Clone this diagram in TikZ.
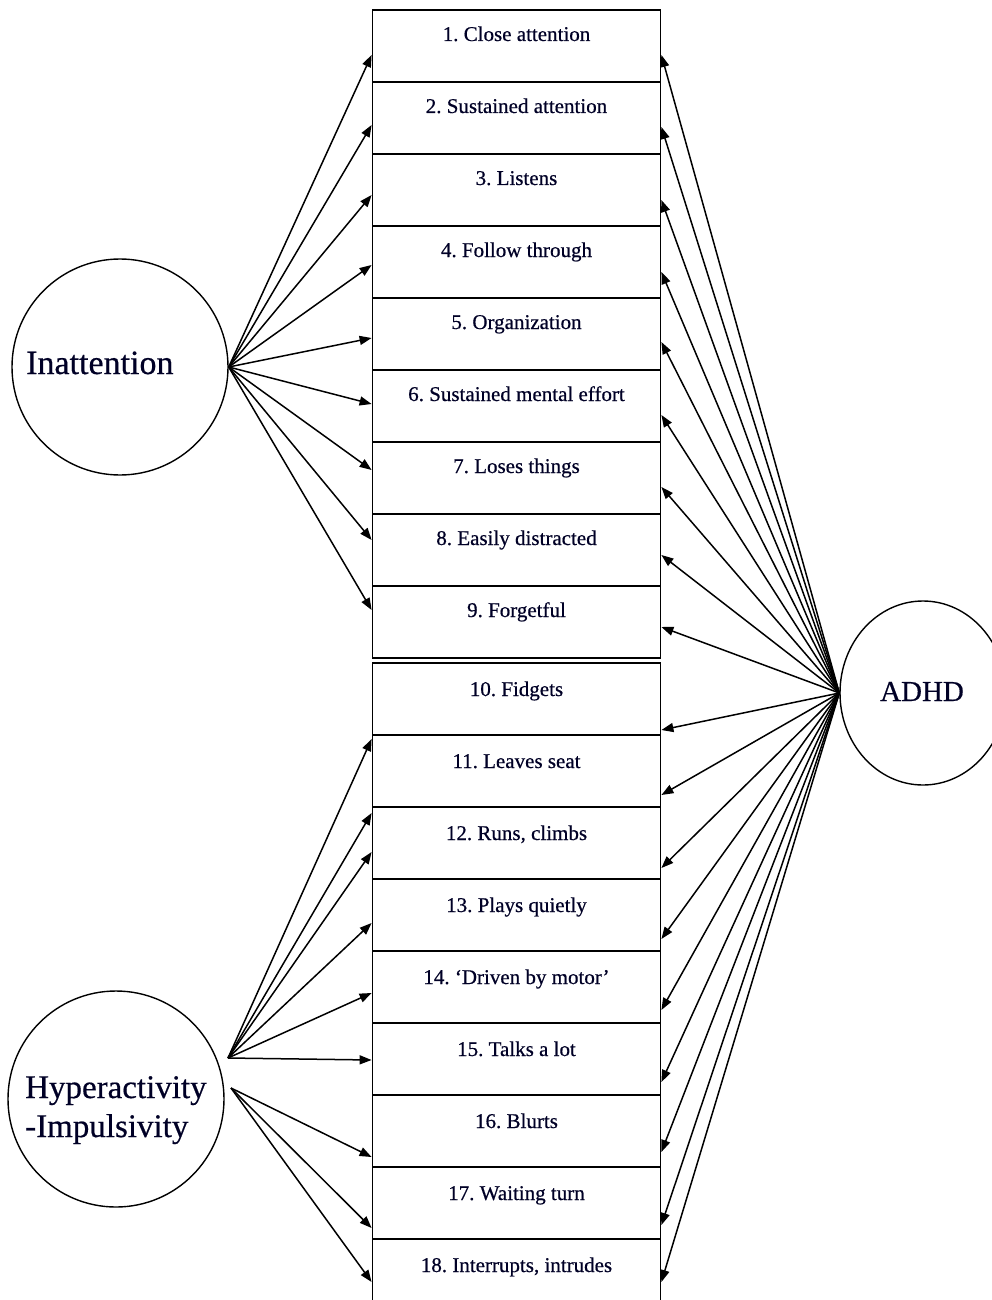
\documentclass[tikz,border=0pt]{standalone}
\usepackage{fontspec}
\setmainfont{Liberation Serif}[FakeBold=0.5]
\usetikzlibrary{calc,arrows.meta,shapes.geometric}
\begin{document}
\frenchspacing
\begin{tikzpicture}[x=1pt,y=-1pt,
  box/.style={draw, line width=1.8pt, minimum width=288pt, minimum height=72pt, inner sep=0pt},
  lbl/.style={font=\fontsize{21}{25}\selectfont, anchor=base, inner sep=0pt, text=black!85!blue},
  big/.style={font=\fontsize{33}{39}\selectfont, inner sep=0pt, text=black!85!blue},
  latent/.style={draw, line width=1.4pt, circle, minimum size=216pt, inner sep=0pt},
  arr/.style={line width=1.5pt, -{Triangle[length=12pt,width=9pt]}}]
\useasboundingbox (0,0) rectangle (992,1300);
\fill[white] (0,0) rectangle (992,1300);
\clip (0,0) rectangle (992,1300);
% boxes
\foreach \i/\t in {1/{1. Close attention},2/{2. Sustained attention},3/{3. Listens},4/{4. Follow through},5/{5. Organization},6/{6. Sustained mental effort},7/{7. Loses things},8/{8. Easily distracted},9/{9. Forgetful}}{
  \node[box] (b\i) at (516.5,{46+72*(\i-1)}) {};
  \node[lbl] (t\i) at ($(b\i.center)+(0,-5)$) {\t};
}
\foreach \i/\t in {10/{10. Fidgets},11/{11. Leaves seat},12/{12. Runs, climbs},13/{13. Plays quietly},14/{14. `Driven by motor'},15/{15. Talks a lot},16/{16. Blurts},17/{17. Waiting turn},18/{18. Interrupts, intrudes}}{
  \node[box] (b\i) at (516.5,{699+72*(\i-10)}) {};
  \node[lbl] (t\i) at ($(b\i.center)+(0,-3)$) {\t};
}
% latent variables
\node[latent] (ina) at (120,367) {};
\node[big, anchor=base west, font=\fontsize{34}{40}\selectfont] (inat) at ($(ina.center)+(-94,7)$) {Inattention};
\node[latent] (hyp) at (116,1099) {};
\node[big, anchor=base west] (hypt1) at (25,1098) {Hyperactivity};
\node[big, anchor=base west] (hypt2) at (25,1137) {-Impulsivity};
\node[draw, line width=1.4pt, ellipse, minimum width=166pt, minimum height=184pt, inner sep=0pt] (adhd) at (923,693) {};
\node[big, anchor=base, font=\fontsize{29}{35}\selectfont] (adhdt) at ($(adhd.center)+(-1,8)$) {ADHD};
\coordinate (h1) at (228,1058);
\coordinate (h2) at (231,1088);
% arrows from Inattention
\foreach \i/\d in {1/9,2/7,3/5,4/3,5/4,6/-2,7/-8,8/-10,9/-12}{
  \draw[arr] (ina.east) -- ($(b\i.west)+(0,\d)$);
}
% arrows from Hyperactivity-Impulsivity
\foreach \i/\d in {11/-32,12/-30,12/9,13/8,14/6,15/1}{
  \draw[arr] (h1) -- ($(b\i.west)+(0,\d)$);
}
\foreach \i/\d in {16/26,17/25,18/7}{
  \draw[arr] (h2) -- ($(b\i.west)+(0,\d)$);
}
% arrows from ADHD
\foreach \i/\d in {1/9,2/9,3/10,4/10,5/8,6/9,7/9,8/5,9/5,10/31,11/24,12/25,13/24,14/23,15/23,16/21,17/22,18/7}{
  \draw[arr] (adhd.west) -- ($(b\i.east)+(0,\d)$);
}
\end{tikzpicture}
\end{document}
